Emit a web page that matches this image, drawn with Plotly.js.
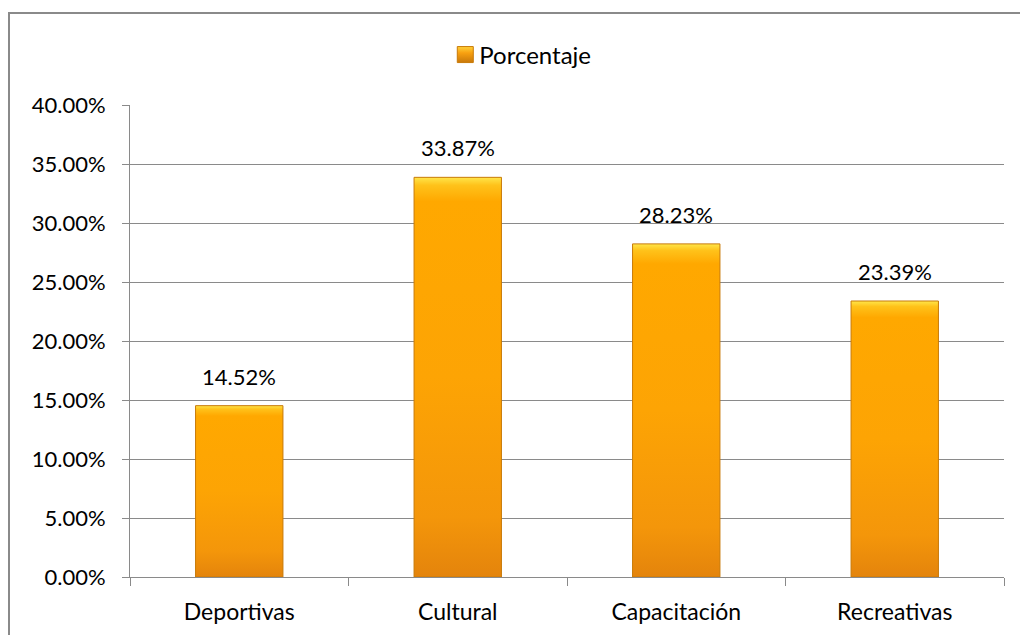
<!DOCTYPE html>
<html>
<head>
<meta charset="utf-8">
<script src="https://cdn.plot.ly/plotly-3.0.1.min.js"></script>
<style>
  html, body { margin: 0; padding: 0; background: #fff; }
  #wrap { position: relative; width: 1020px; height: 635px; overflow: hidden; }
  #chart { position: absolute; left: 0; top: 0; width: 1020px; height: 635px; }
  #frame { position: absolute; left: 8px; top: 12px; width: 1100px; height: 700px;
           border: 2px solid #8a8a8a; pointer-events: none; }
</style>
</head>
<body>
<div id="wrap">
  <div id="chart"></div>
  <div id="frame"></div>
</div>
<script>
const categories = ["Deportivas", "Cultural", "Capacitación", "Recreativas"];
const porcentaje = [14.52, 33.87, 28.23, 23.39];
const seriesName = "Porcentaje";
const yTicks = [0, 5, 10, 15, 20, 25, 30, 35, 40];

const font = "Lato, 'Open Sans', sans-serif";
const fs = 22;

const trace = {
  type: "bar",
  name: seriesName,
  x: categories,
  y: porcentaje,
  marker: { color: "#FBA30C", line: { color: "#C87A08", width: 1 } },
  hoverinfo: "none"
};

const annotations = categories.map((c, i) => ({
  x: c, y: porcentaje[i], xref: "x", yref: "y",
  text: porcentaje[i].toFixed(2) + "%",
  showarrow: false, yanchor: "bottom", yshift: 14,
  font: { family: font, size: fs, color: "#000" }
}));

const layout = {
  width: 1020, height: 635,
  margin: { l: 130, r: 16, t: 105, b: 58 },
  paper_bgcolor: "rgba(0,0,0,0)",
  plot_bgcolor: "rgba(0,0,0,0)",
  font: { family: font, size: fs, color: "#000" },
  showlegend: true,
  legend: {
    orientation: "h", x: 0.4437, xanchor: "center", y: 1.106, yanchor: "middle",
    font: { family: font, size: 24, color: "#000" },
    itemwidth: 30
  },
  bargap: 0.6,
  annotations: annotations,
  xaxis: {
    type: "category",
    showline: true, linecolor: "#8a8a8a", linewidth: 1,
    ticks: "outside", tickson: "boundaries", ticklen: 8, tickcolor: "#8a8a8a",
    ticklabelstandoff: 14,
    showgrid: false,
    tickfont: { family: font, size: 23, color: "#000" }
  },
  yaxis: {
    range: [0, 40],
    tickvals: yTicks,
    ticktext: yTicks.map(v => v.toFixed(2) + "%"),
    showline: true, linecolor: "#8a8a8a", linewidth: 1,
    ticks: "outside", ticklen: 7, tickcolor: "#8a8a8a",
    ticklabelstandoff: 12,
    showgrid: true, gridcolor: "#8a8a8a", gridwidth: 1,
    zeroline: false,
    tickfont: { family: font, size: fs, color: "#000" }
  }
};

Plotly.newPlot("chart", [trace], layout, { staticPlot: true }).then(gd => {
  const svg = gd.querySelector("svg.main-svg");
  const ns = "http://www.w3.org/2000/svg";
  let defs = svg.querySelector("defs");
  if (!defs) { defs = document.createElementNS(ns, "defs"); svg.insertBefore(defs, svg.firstChild); }
  function grad(id, stops) {
    const g = document.createElementNS(ns, "linearGradient");
    g.setAttribute("id", id);
    g.setAttribute("x1", "0"); g.setAttribute("y1", "0");
    g.setAttribute("x2", "0"); g.setAttribute("y2", "1");
    stops.forEach(([o, c]) => {
      const s = document.createElementNS(ns, "stop");
      s.setAttribute("offset", o); s.setAttribute("stop-color", c);
      g.appendChild(s);
    });
    defs.appendChild(g);
  }
  grad("barGrad", [[0, "#FFE64A"], [0.02, "#FFC21A"], [0.06, "#FFA800"], [0.5, "#FDA404"], [0.85, "#F4960A"], [1, "#E4840C"]]);
  grad("legGrad", [[0, "#FFD23A"], [0.4, "#F8A010"], [1, "#C8780A"]]);
  gd.querySelectorAll(".barlayer .point path").forEach(p => { p.style.fill = "url(#barGrad)"; });
  gd.querySelectorAll(".legend .legendpoints path").forEach(p => {
    p.setAttribute("d", "M14,8H-2V-8H14Z");
    p.style.fill = "url(#legGrad)";
  });
});
</script>
</body>
</html>
